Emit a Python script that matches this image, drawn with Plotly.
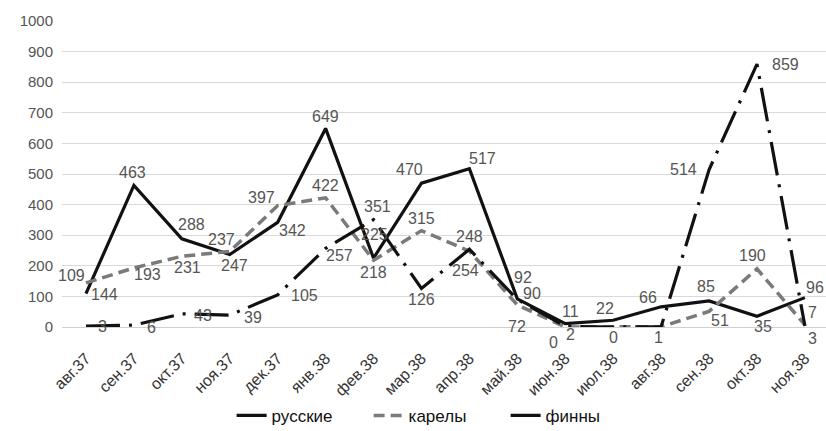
import plotly.graph_objects as go

months = ["авг.37", "сен.37", "окт.37", "ноя.37", "дек.37", "янв.38", "фев.38", "мар.38",
          "апр.38", "май.38", "июн.38", "июл.38", "авг.38", "сен.38", "окт.38", "ноя.38"]

russians = [109, 463, 288, 237, 342, 649, 225, 470, 517, 92, 11, 22, 66, 85, 35, 96]
karelians = [144, 193, 231, 247, 397, 422, 218, 315, 248, 72, 0, 0, 1, 51, 190, 7]
finns = [3, 6, 43, 39, 105, 257, 351, 126, 254, 90, 2, 0, 1, 514, 859, 3]

y_ticks = list(range(0, 1001, 100))

# pixel offsets (dx right, dy down) of each value label from its point
off_rus = [(-14, -18), (-1, -13), (10, -14), (-8, -15), (15, 8), (0, -12), (1, -24), (-12, -14),
           (13, -10), (6, -21), (5, -12), (-8, -12), (-13, -9), (-3, -14), (6, 10), (10, -10)]
off_kar = [(19, 12), (14, 7), (6, 11), (5, 14), (-16, -8), (0, -12), (0, 12), (0, -12),
           (0, -15), (0, 22), (-12, 15), (0, 10), (-3, 11), (11, 9), (-4, -13), (8, -12)]
off_fin = [(17, 0), (18, 2), (21, 2), (23, 2), (27, 1), (14, 7), (4, -13), (0, 11),
           (-4, 21), (15, -6), (5, 8), None, None, (-26, 0), (29, 0), (8, 12)]

label_font = dict(family="Liberation Sans", size=16, color="#555555")

fig = go.Figure()
fig.add_trace(go.Scatter(
    x=months, y=russians, name="русские", mode="lines",
    line=dict(color="#111111", width=3.2),
))
fig.add_trace(go.Scatter(
    x=months, y=karelians, name="карелы", mode="lines",
    line=dict(color="#7a7a7a", width=3.5, dash="11px,6px"),
))
fig.add_trace(go.Scatter(
    x=months, y=finns, name="финны", mode="lines",
    line=dict(color="#111111", width=3.2, dash="34px,9px,3px,9px"),
))

# value labels next to each point
for values, offsets in ((russians, off_rus), (karelians, off_kar), (finns, off_fin)):
    for m, v, off in zip(months, values, offsets):
        if off is None:
            continue
        fig.add_annotation(
            x=m, y=v, text=str(v), showarrow=False,
            xshift=off[0], yshift=-off[1], font=label_font,
        )

fig.update_layout(
    width=826, height=431,
    margin=dict(l=62, r=0, t=21, b=104, autoexpand=False),
    paper_bgcolor="white", plot_bgcolor="white",
    font=dict(family="Liberation Sans", size=15, color="#555555"),
    showlegend=True,
    legend=dict(
        orientation="h", x=0.222, xanchor="left",
        yref="container", y=0.035, yanchor="middle",
        font=dict(family="Liberation Sans", size=17, color="#111111"),
        bgcolor="rgba(0,0,0,0)", entrywidth=92,
    ),
    xaxis=dict(
        type="category", range=[-0.5, 15.44], automargin=False,
        showgrid=False, showline=False, zeroline=False,
        tickangle=-45, ticks="", ticklabelstandoff=18,
        tickfont=dict(family="Liberation Sans", size=16, color="#333333"),
    ),
    yaxis=dict(
        range=[0, 1000], tickvals=y_ticks, automargin=False,
        showgrid=True, gridcolor="#d9d9d9", gridwidth=1.3,
        zeroline=True, zerolinecolor="#d0d0d0", zerolinewidth=1.3, showline=False,
        tickfont=dict(family="Liberation Sans", size=15, color="#555555"),
        ticks="", ticklabelstandoff=8,
    ),
)

fig.write_html("out.html")
